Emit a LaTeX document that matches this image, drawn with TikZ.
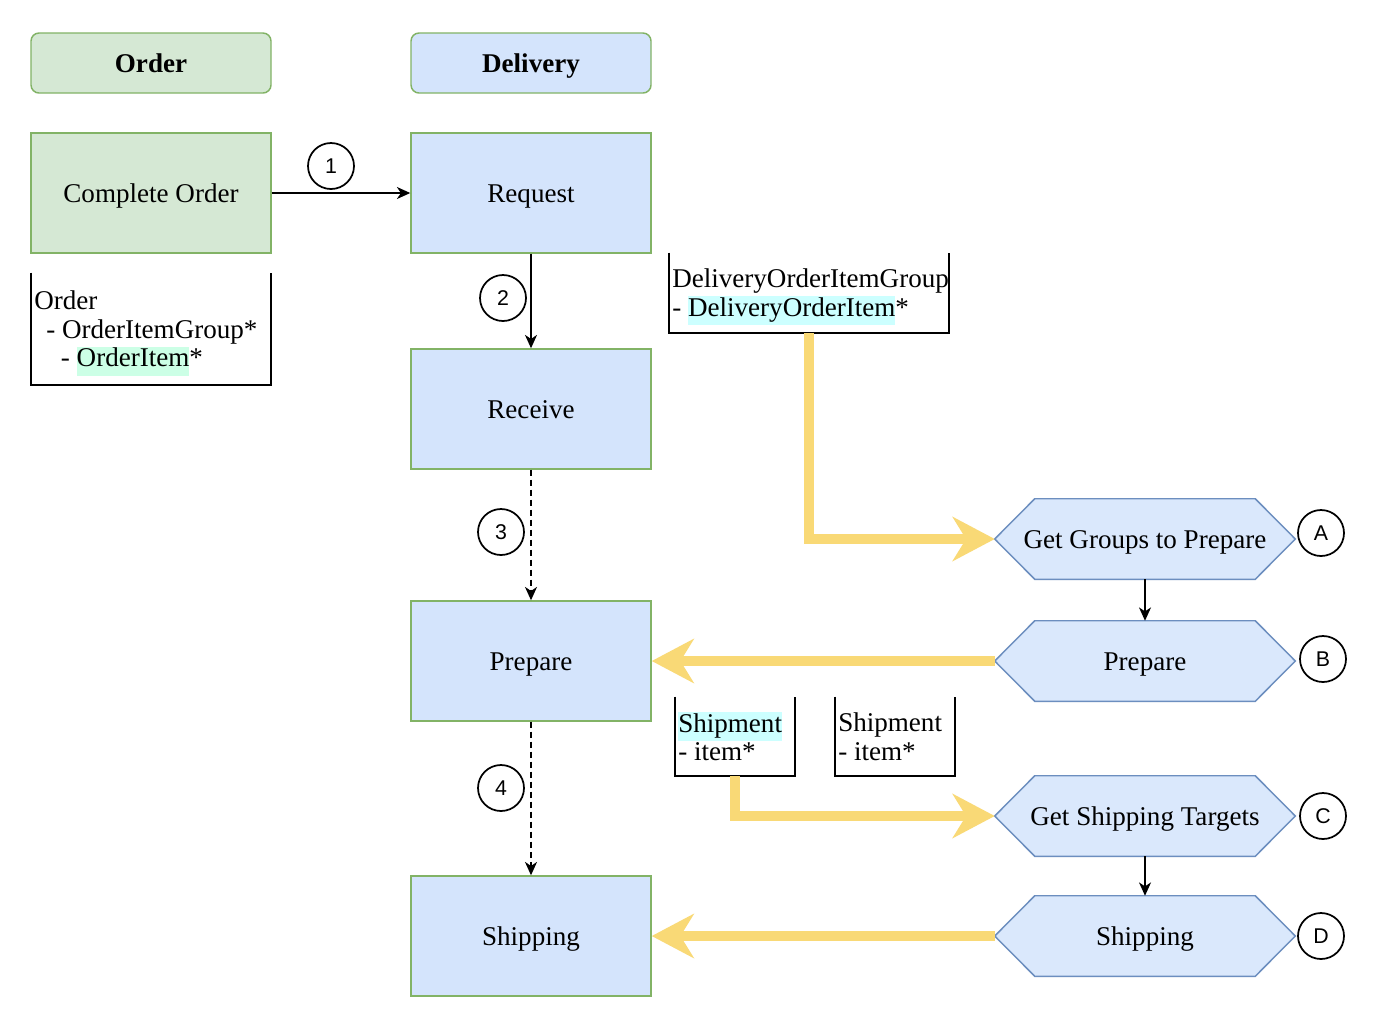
\documentclass[tikz,border=0pt]{standalone}
\usepackage{fontspec}
\setmainfont{Liberation Serif}
\newfontfamily\circfont{Liberation Sans}
\usetikzlibrary{arrows.meta,backgrounds}
\definecolor{gfill}{HTML}{D5E8D4}
\definecolor{gline}{HTML}{82B366}
\definecolor{bfill}{HTML}{D4E4FC}
\definecolor{hfill}{HTML}{DAE8FC}
\definecolor{hline}{HTML}{6C8EBF}
\definecolor{yel}{HTML}{F9D976}
\definecolor{hlg}{HTML}{CCFFE6}
\definecolor{hlc}{HTML}{CCFFFF}
\newcommand{\hlbox}[2]{{\setlength{\fboxsep}{0pt}\colorbox{#1}{\strut #2}}}
\newcommand{\hexpath}[1]{\draw[hexs] (#1.west) -- ([xshift=30pt]#1.north west) -- ([xshift=-30pt]#1.north east) -- (#1.east) -- ([xshift=-30pt]#1.south east) -- ([xshift=30pt]#1.south west) -- cycle;}
\newcommand{\bracketpath}[1]{\draw[brk] (#1.north west) -- (#1.south west) -- (#1.south east) -- (#1.north east);}
\begin{document}
\begin{tikzpicture}[x=0.75pt,y=-0.75pt,
  txt/.style={font=\fontsize{20.3}{21.6}\selectfont},
  one/.style={text height=18pt, text depth=4.5pt},
  hdr/.style={one, draw=gline, line width=1.1pt, rounded corners=6pt, minimum width=180pt, minimum height=45pt, inner sep=0pt, font=\fontsize{20.3}{21.6}\selectfont\bfseries},
  proc/.style={txt, one, draw=gline, fill=bfill, line width=1.1pt, minimum width=180pt, minimum height=90pt, inner sep=0pt},
  hexn/.style={txt, one, minimum width=225pt, minimum height=60pt, inner sep=0pt},
  hexs/.style={draw=hline, fill=hfill, line width=1.1pt},
  brkn/.style={inner sep=0pt},
  brk/.style={draw=black, line width=1.4pt},
  btxt/.style={txt, align=left, anchor=west, inner sep=0pt},
  circ/.style={circle, draw=black, line width=1.3pt, minimum size=34.5pt, inner sep=0pt, font=\circfont\fontsize{16}{16}\selectfont},
  arr/.style={draw=black, line width=1.2pt, -{Stealth[length=10pt,width=9pt,inset=3pt]}},
  dsh/.style={dash pattern=on 4.5pt off 3pt},
  yarr/.style={draw=yel, line width=7.1pt, -{Stealth[length=31.5pt,width=33pt,inset=10pt]}}
]
\useasboundingbox (0,0) rectangle (1378,1026);

% headers
\node[hdr, fill=gfill] (hord) at (151,63) {Order};
\node[hdr, fill=bfill] (hdel) at (531,63) {Delivery};

% process boxes
\node[proc, fill=gfill] (co) at (151,193) {Complete Order};
\node[proc] (req) at (531,193) {Request};
\node[proc] (rec) at (531,409) {Receive};
\node[proc] (prep) at (531,661) {Prepare};
\node[proc] (ship) at (531,936) {Shipping};

% bracket boxes
\node[brkn, minimum width=180pt, minimum height=84pt] (ob) at (151,329) {};
\bracketpath{ob}
\node[btxt] (obt) at (34,333) {Order\\\hspace*{9pt}- OrderItemGroup*\\\hspace*{20pt}- \hlbox{hlg}{OrderItem}*};

\node[brkn, minimum width=210pt, minimum height=60pt] (dg) at (809,293) {};
\bracketpath{dg}
\node[btxt] (dgt) at (672,297) {DeliveryOrderItemGroup\\- \hlbox{hlc}{DeliveryOrderItem}*};

\node[brkn, minimum width=90pt, minimum height=59.25pt] (s1) at (735,736.5) {};
\bracketpath{s1}
\node[btxt] (s1t) at (678,736.5) {\hlbox{hlc}{Shipment}\\- item*};

\node[brkn, minimum width=90pt, minimum height=59.25pt] (s2) at (895,736.5) {};
\bracketpath{s2}
\node[btxt] (s2t) at (838,736.5) {Shipment\\- item*};

% hexagons
\node[hexn] (hA) at (1145,539) {Get Groups to Prepare};
\node[hexn] (hB) at (1145,661) {Prepare};
\node[hexn] (hC) at (1145,816) {Get Shipping Targets};
\node[hexn] (hD) at (1145,936) {Shipping};
\begin{scope}[on background layer]
\fill[white] (0,0) rectangle (1378,1026);
\hexpath{hA}
\hexpath{hB}
\hexpath{hC}
\hexpath{hD}
\end{scope}

% circles
\node[circ] (c1) at (331,166) {1};
\node[circ] (c2) at (503,298) {2};
\node[circ] (c3) at (501,532) {3};
\node[circ] (c4) at (501,788) {4};
\node[circ] (cA) at (1321,533) {A};
\node[circ] (cB) at (1323,659) {B};
\node[circ] (cC) at (1323,816) {C};
\node[circ] (cD) at (1321,936) {D};

% connectors
\draw[arr] (co) -- (req);
\draw[arr] (req) -- (rec);
\draw[arr, dsh] (rec) -- (prep);
\draw[arr, dsh] (prep) -- (ship);
\draw[arr] (hA) -- (hB);
\draw[arr] (hC) -- (hD);

\draw[yarr] (dg) |- (hA);
\draw[yarr] (hB) -- (prep);
\draw[yarr] (s1) |- (hC);
\draw[yarr] (hD) -- (ship);
\end{tikzpicture}
\end{document}
